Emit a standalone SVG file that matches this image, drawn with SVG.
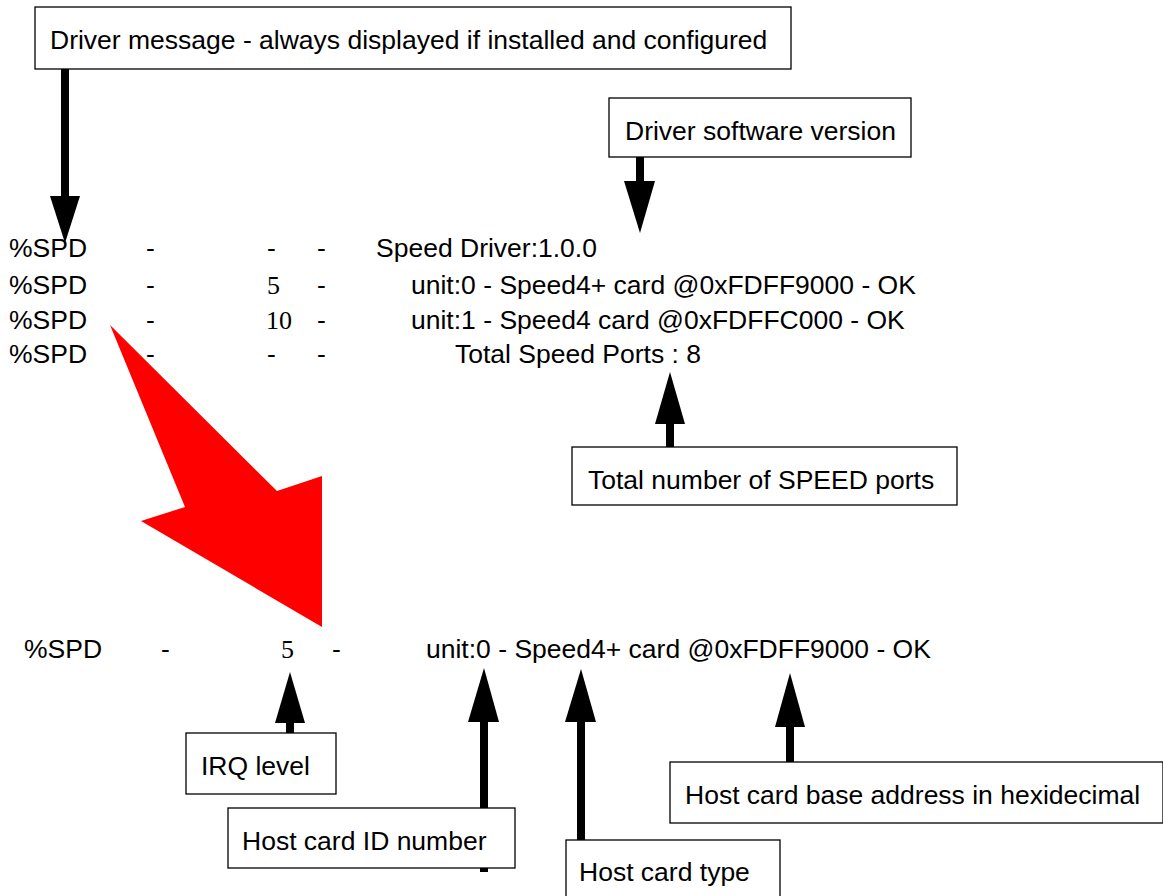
<svg xmlns="http://www.w3.org/2000/svg" width="1163" height="896" viewBox="0 0 1163 896">
<style>
.box{fill:#fff;stroke:#000;stroke-width:1.3}
.t{font-family:"Liberation Sans",Arial,sans-serif;font-size:26.5px;fill:#000}
.n{font-family:"Liberation Serif","Times New Roman",serif;font-size:26px;fill:#000}
.shaft{stroke:#000;stroke-width:8;fill:none}
.head{fill:#000}
</style>
<rect width="1163" height="896" fill="#fff"/>
<g id="connectors">
  <line class="shaft" x1="65" y1="69" x2="65" y2="197"/>
  <polygon class="head" points="50,196 80,196 65,243"/>
  <line class="shaft" x1="640" y1="157" x2="640" y2="182"/>
  <polygon class="head" points="624,181 655,181 640,233"/>
  <line class="shaft" x1="670" y1="423" x2="670" y2="448"/>
  <polygon class="head" points="655,424 685,424 670,372"/>
  <line class="shaft" x1="290" y1="722" x2="290" y2="734"/>
  <polygon class="head" points="275,723 305,723 290,672"/>
  <line class="shaft" x1="484" y1="721" x2="484" y2="872"/>
  <polygon class="head" points="468,722 499,722 484,668"/>
  <line class="shaft" x1="581" y1="721" x2="581" y2="840"/>
  <polygon class="head" points="565,722 596,722 581,669"/>
  <line class="shaft" x1="790" y1="726" x2="790" y2="763"/>
  <polygon class="head" points="775,727 805,727 790,673"/>
  <polygon id="red-arrow" fill="#ff0000" points="110,325 277,491 322,476 322,627 141,521 185,507"/>
</g>
<g id="log-lines">
  <text class="t" x="9" y="257">%SPD</text>
  <text class="t" x="146" y="257">-</text>
  <text class="t" x="267" y="257">-</text>
  <text class="t" x="317" y="257">-</text>
  <text class="t" x="376" y="257">Speed Driver:1.0.0</text>
  <text class="t" x="9" y="294">%SPD</text>
  <text class="t" x="146" y="294">-</text>
  <text class="n" x="267" y="294">5</text>
  <text class="t" x="317" y="294">-</text>
  <text class="t" x="411" y="294">unit:0 - Speed4+ card @0xFDFF9000 - OK</text>
  <text class="t" x="9" y="329">%SPD</text>
  <text class="t" x="146" y="329">-</text>
  <text class="n" x="266" y="329">10</text>
  <text class="t" x="317" y="329">-</text>
  <text class="t" x="411" y="329">unit:1 - Speed4 card @0xFDFFC000 - OK</text>
  <text class="t" x="9" y="363">%SPD</text>
  <text class="t" x="146" y="363">-</text>
  <text class="t" x="267" y="363">-</text>
  <text class="t" x="317" y="363">-</text>
  <text class="t" x="455" y="363">Total Speed Ports : 8</text>
  <text class="t" x="24" y="658">%SPD</text>
  <text class="t" x="161" y="658">-</text>
  <text class="n" x="281" y="658">5</text>
  <text class="t" x="332" y="658">-</text>
  <text class="t" x="426" y="658">unit:0 - Speed4+ card @0xFDFF9000 - OK</text>
</g>
<g id="node-driver-message">
  <rect class="box" x="35" y="7" width="756" height="62"/>
  <text class="t" x="50" y="49">Driver message - always displayed if installed and configured</text>
</g>
<g id="node-driver-version">
  <rect class="box" x="609" y="98" width="302" height="59"/>
  <text class="t" x="625" y="140">Driver software version</text>
</g>
<g id="node-total-ports">
  <rect class="box" x="572" y="447" width="385" height="58"/>
  <text class="t" x="588" y="489">Total number of SPEED ports</text>
</g>
<g id="node-irq">
  <rect class="box" x="186" y="733" width="150" height="61"/>
  <text class="t" x="201" y="775">IRQ level</text>
</g>
<g id="node-host-id">
  <rect class="box" x="228" y="808" width="287" height="60"/>
  <text class="t" x="242" y="850">Host card ID number</text>
</g>
<g id="node-host-type">
  <rect class="box" x="566" y="840" width="214" height="60"/>
  <text class="t" x="579" y="881">Host card type</text>
</g>
<g id="node-base-address">
  <rect class="box" x="670" y="762" width="493" height="61"/>
  <text class="t" x="685" y="804">Host card base address in hexidecimal</text>
</g>
</svg>
